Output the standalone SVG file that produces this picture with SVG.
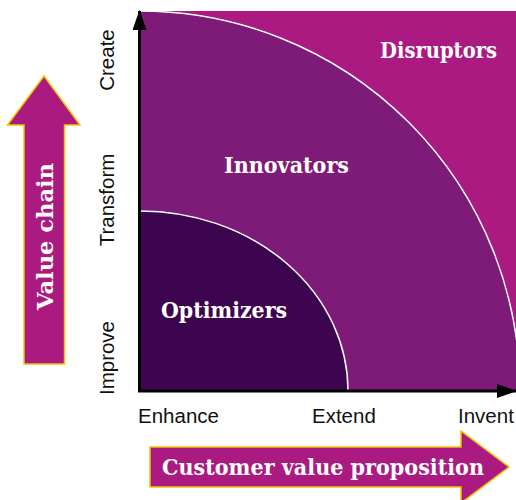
<svg xmlns="http://www.w3.org/2000/svg" width="516" height="500" viewBox="0 0 516 500">
<defs>
<style>
.lbl{font-family:"Liberation Sans",Arial,sans-serif;font-size:20.5px;fill:#111}
.slab{font-family:"DejaVu Serif",serif;font-weight:bold;font-size:22px;fill:#fff}
.big{fill:#AB1A80;stroke:#F5C200;stroke-width:1.5}
.curve{stroke:#fff;stroke-width:1.5;fill:none}
.axis{stroke:#000;stroke-width:3;fill:none}
</style>
<marker id="ah" viewBox="0 0 20 14" refX="19" refY="7" markerWidth="20" markerHeight="14" markerUnits="userSpaceOnUse" orient="auto">
<path d="M0,0 L20,7 L0,14 Z" fill="#000"/>
</marker>
</defs>
<g id="quadrant-disruptors">
<rect x="140" y="11" width="376" height="380" fill="#AB1A80"/>
<text class="slab" x="380" y="58" textLength="117" lengthAdjust="spacingAndGlyphs">Disruptors</text>
</g>
<g id="quadrant-innovators">
<path d="M140,391 L140,11 A380,380 0 0 1 520,391 Z" fill="#7E1B78"/>
<path class="curve" d="M140,11 A380,380 0 0 1 520,391"/>
<text class="slab" x="224" y="173" textLength="125" lengthAdjust="spacingAndGlyphs">Innovators</text>
</g>
<g id="quadrant-optimizers">
<path d="M140,391 L140,211 A208,180 0 0 1 348,391 Z" fill="#3D0550"/>
<path class="curve" d="M140,211 A208,180 0 0 1 348,391"/>
<text class="slab" x="161" y="318" textLength="126" lengthAdjust="spacingAndGlyphs">Optimizers</text>
</g>
<g id="connectors">
<path class="axis" d="M139.5,391 L139.5,11" marker-end="url(#ah)"/>
<path class="axis" d="M138,391 L516,391" marker-end="url(#ah)"/>
</g>
<g id="axis-labels">
<text class="lbl" text-anchor="middle" transform="translate(114,60) rotate(-90)">Create</text>
<text class="lbl" text-anchor="middle" transform="translate(114,200) rotate(-90)">Transform</text>
<text class="lbl" text-anchor="middle" transform="translate(114,358) rotate(-90)">Improve</text>
<text class="lbl" x="138" y="423">Enhance</text>
<text class="lbl" x="312" y="423">Extend</text>
<text class="lbl" x="458" y="423">Invent</text>
</g>
<g id="value-chain">
<path class="big" d="M24,364 L24,125 L7.5,125 L44,76 L80,125 L64.5,125 L64.5,364 Z"/>
<text class="slab" text-anchor="middle" transform="translate(53,236.5) rotate(-90)" textLength="147" lengthAdjust="spacingAndGlyphs">Value chain</text>
</g>
<g id="customer-value-proposition">
<path class="big" d="M150,447 L461,447 L461,431 L509,467 L461,503 L461,487 L150,487 Z"/>
<text class="slab" x="162" y="475" textLength="322" lengthAdjust="spacingAndGlyphs">Customer value proposition</text>
</g>
</svg>
